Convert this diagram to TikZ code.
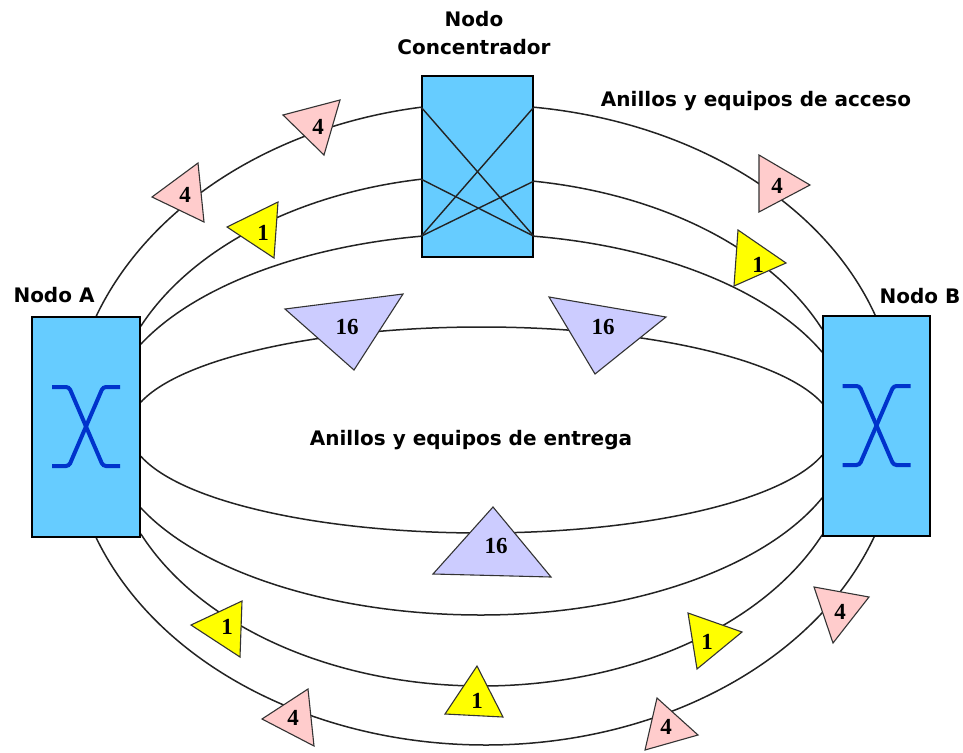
\documentclass[tikz,border=0pt]{standalone}
\usepackage{fontspec}
\setmainfont{DejaVu Sans}
\newfontfamily\numfont{Liberation Serif}
\usetikzlibrary{calc}
\definecolor{boxblue}{RGB}{102,204,255}
\definecolor{symblue}{RGB}{0,51,204}
\definecolor{pinkt}{RGB}{255,204,204}
\definecolor{yellowt}{RGB}{255,255,0}
\definecolor{purplet}{RGB}{204,204,255}
\definecolor{ringc}{RGB}{35,35,35}
\begin{document}
\begin{tikzpicture}[x=1pt,y=-1pt,
  ring/.style={draw=ringc, line width=1.5pt},
  cross/.style={draw=ringc, line width=1.4pt},
  nodebox/.style={draw=black, fill=boxblue, line width=1.6pt, rectangle, inner sep=0pt},
  sym/.style={draw=symblue, line width=4pt, rounded corners=3pt},
  tri/.style={draw=black!80, line width=1.1pt, line join=miter},
  lbl/.style={font=\fontsize{20}{24}\selectfont\bfseries, inner sep=0pt, anchor=base},
  num/.style={font=\numfont\fontsize{23}{26}\selectfont\bfseries, inner sep=0pt}]
\fill[white] (0,0) rectangle (963,752);
\useasboundingbox (0,0) rectangle (963,752);

% boxes (positions only, drawn later)
\path (86,427) node[nodebox, minimum width=108pt, minimum height=220pt, draw=none, fill=none] (A) {};
\path (876.5,426) node[nodebox, minimum width=107pt, minimum height=220pt, draw=none, fill=none] (B) {};
\path (477.5,166.5) node[nodebox, minimum width=111pt, minimum height=181pt, draw=none, fill=none] (C) {};

% attachment points
\coordinate (Ao)  at ($(A.north west)+(65,0)$);
\coordinate (A2)  at ($(A.north east)+(0,10)$);
\coordinate (A3)  at ($(A.north east)+(0,28)$);
\coordinate (Ait) at ($(A.north east)+(0,86)$);
\coordinate (Aib) at ($(A.north east)+(0,140)$);
\coordinate (A5)  at ($(A.south east)+(0,-30)$);
\coordinate (A6)  at ($(A.south east)+(0,-4)$);
\coordinate (Aob) at ($(A.south west)+(65,0)$);
\coordinate (Bo)  at ($(B.north west)+(53,0)$);
\coordinate (B2)  at ($(B.north west)+(0,14)$);
\coordinate (B3)  at ($(B.north west)+(0,37)$);
\coordinate (Bit) at ($(B.north west)+(0,88)$);
\coordinate (Bib) at ($(B.north west)+(0,140)$);
\coordinate (B5)  at ($(B.south west)+(0,-39)$);
\coordinate (B6)  at ($(B.south west)+(0,-2)$);
\coordinate (Bob) at ($(B.south west)+(52,0)$);
\coordinate (C1l) at ($(C.north west)+(0,32)$);
\coordinate (C2l) at ($(C.north west)+(0,104)$);
\coordinate (C3l) at ($(C.north west)+(0,161)$);
\coordinate (C1r) at ($(C.north east)+(0,32)$);
\coordinate (C2r) at ($(C.north east)+(0,106)$);
\coordinate (C3r) at ($(C.north east)+(0,161)$);

% rings
\draw[ring] (Ao) .. controls (148.4,206.3) and (272.8,126.2) .. (C1l);
\draw[ring] (C1r) .. controls (689.5,121.9) and (822.7,200.4) .. (Bo);
\draw[ring] (A2) .. controls (191.2,248.7) and (297.3,193.5) .. (C2l);
\draw[ring] (C2r) .. controls (661.6,194.3) and (771.3,249.3) .. (B2);
\draw[ring] (A3) .. controls (193.9,287.3) and (299.3,247.0) .. (C3l);
\draw[ring] (C3r) .. controls (660.2,246.5) and (769.6,290.2) .. (B3);
\draw[ring] (Ait) .. controls (181.4,358) and (321.2,327) .. (481.5,327) .. controls (641.8,327) and (781.6,358) .. (Bit);
\draw[ring] (Aib) .. controls (181.4,502) and (321.2,533) .. (481.5,533) .. controls (641.8,533) and (781.6,502) .. (Bib);
\draw[ring] (A5) .. controls (201.0,572.8) and (334.3,615) .. (481,615) .. controls (629.5,615) and (764.4,568.6) .. (B5);
\draw[ring] (A6) .. controls (199.5,626) and (333.2,686) .. (481.5,686) .. controls (629.8,686) and (763.5,626) .. (B6);
\draw[ring] (Aob) .. controls (156.5,662.6) and (312,745) .. (486,745) .. controls (660,745) and (815.5,661.6) .. (Bob);

% boxes
\node[nodebox, minimum width=108pt, minimum height=220pt] at (A) {};
\node[nodebox, minimum width=107pt, minimum height=220pt] at (B) {};
\node[nodebox, minimum width=111pt, minimum height=181pt] at (C) {};

% concentrator cross connections
\draw[cross] (C1l) -- (C3r);
\draw[cross] (C2l) -- (C3r);
\draw[cross] (C1r) -- (C3l);
\draw[cross] (C2r) -- (C3l);

% switch symbols
\foreach \n in {A,B}{
  \draw[sym] ($(\n.center)+(-34,-40)$) -- ($(\n.center)+(-17,-40)$) -- ($(\n.center)+(17,39)$) -- ($(\n.center)+(34,39)$);
  \draw[sym] ($(\n.center)+(34,-40)$) -- ($(\n.center)+(17,-40)$) -- ($(\n.center)+(-17,39)$) -- ($(\n.center)+(-34,39)$);
}

% triangles
\filldraw[tri, fill=pinkt] (152,197) -- (198,163) -- (204,222) -- cycle;
\filldraw[tri, fill=pinkt] (283,115) -- (340,100) -- (324,155) -- cycle;
\filldraw[tri, fill=yellowt] (227,227) -- (278,202) -- (274,258) -- cycle;
\filldraw[tri, fill=purplet] (285,309) -- (403,294) -- (354,370) -- cycle;
\filldraw[tri, fill=purplet] (549,297) -- (666,317) -- (595,374) -- cycle;
\filldraw[tri, fill=pinkt] (759,155) -- (810,185) -- (759,212) -- cycle;
\filldraw[tri, fill=yellowt] (738,230) -- (786,263) -- (734,286) -- cycle;
\filldraw[tri, fill=purplet] (493,507) -- (433,574) -- (551,577) -- cycle;
\filldraw[tri, fill=yellowt] (191,625) -- (242,601) -- (240,657) -- cycle;
\filldraw[tri, fill=yellowt] (477,666) -- (445,714) -- (503,717) -- cycle;
\filldraw[tri, fill=yellowt] (688,613) -- (742,632) -- (697,669) -- cycle;
\filldraw[tri, fill=pinkt] (262,719) -- (308,689) -- (314,746) -- cycle;
\filldraw[tri, fill=pinkt] (814,587) -- (869,597) -- (833,643) -- cycle;
\filldraw[tri, fill=pinkt] (657,698) -- (698,735) -- (645,750) -- cycle;

% triangle labels
\node[num] (t1) at (185,195) {4};
\node[num] (t2) at (318,127) {4};
\node[num] (t3) at (263,233) {1};
\node[num] (t4) at (347,327) {16};
\node[num] (t5) at (603,327) {16};
\node[num] (t6) at (777,186) {4};
\node[num] (t7) at (758,265) {1};
\node[num] (t8) at (496,546) {16};
\node[num] (t9) at (227,627) {1};
\node[num] (t10) at (477,701) {1};
\node[num] (t11) at (707,642) {1};
\node[num] (t12) at (293,718) {4};
\node[num] (t13) at (840,612) {4};
\node[num] (t14) at (666,727) {4};

% text labels
\node[lbl] (lA) at (54,302) {Nodo A};
\node[lbl] (lB) at (920,303) {Nodo B};
\node[lbl] (lC1) at (474,27) {Nodo};
\node[lbl] (lC2) at (474,55) {Concentrador};
\node[lbl] (lacc) at (756,106) {Anillos y equipos de acceso};
\node[lbl] (lent) at (471,445) {Anillos y equipos de entrega};
\end{tikzpicture}
\end{document}
